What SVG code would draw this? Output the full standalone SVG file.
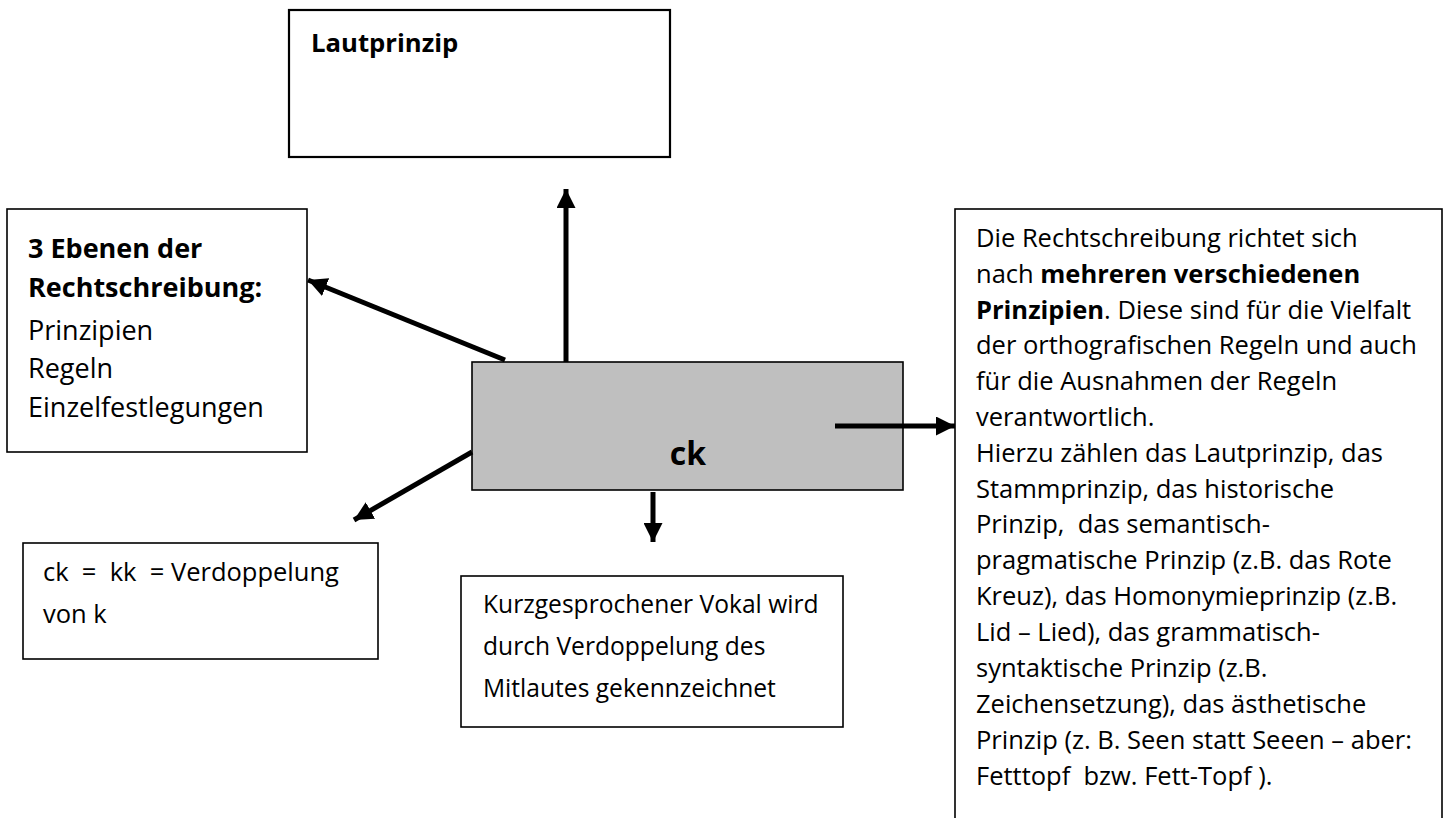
<svg xmlns="http://www.w3.org/2000/svg" width="1448" height="818" viewBox="0 0 1448 818">
<style>
  .box { fill: #ffffff; stroke: #000000; stroke-width: 1.6; }
  .center { fill: #bfbfbf; stroke: #000000; stroke-width: 1.6; }
  .t { font-family: "Open Sans", "Noto Sans", "Liberation Sans", sans-serif; font-size: 25.5px; fill: #000000; }
  .b { font-weight: bold; }
  .conn { stroke: #000000; stroke-width: 5; fill: none; }
</style>
<defs>
  <marker id="arr" viewBox="0 0 10 10" refX="10" refY="5" markerWidth="3.8" markerHeight="3.8" markerUnits="strokeWidth" orient="auto">
    <path d="M0,0 L10,5 L0,10 z" fill="#000000"/>
  </marker>
</defs>
<rect x="0" y="0" width="1448" height="818" fill="#ffffff"/>

<g id="lautprinzip">
  <rect class="box" x="289" y="10" width="381" height="147" style="stroke-width:2.2"/>
  <text class="t b" x="311" y="52" style="font-size:25.7px">Lautprinzip</text>
</g>

<g id="ebenen">
  <rect class="box" x="7" y="209" width="300" height="243"/>
  <text class="t b" x="28" y="258" style="font-size:27px">3 Ebenen der</text>
  <text class="t b" x="28" y="297" style="font-size:27px">Rechtschreibung:</text>
  <text class="t" x="28" y="340" style="font-size:27px">Prinzipien</text>
  <text class="t" x="28" y="378" style="font-size:27px">Regeln</text>
  <text class="t" x="28" y="417" style="font-size:27px">Einzelfestlegungen</text>
</g>

<g id="ck">
  <rect class="center" x="472" y="362" width="431" height="128"/>
  <text class="t b" x="688" y="465" text-anchor="middle" style="font-size:32px">ck</text>
</g>

<g id="verdoppelung">
  <rect class="box" x="23" y="543" width="355" height="116"/>
  <text class="t" x="43" y="581" xml:space="preserve">ck  =  kk  = Verdoppelung</text>
  <text class="t" x="43" y="623">von k</text>
</g>

<g id="kurz">
  <rect class="box" x="461" y="576" width="382" height="151"/>
  <text class="t" x="483" y="613" style="font-size:24.6px">Kurzgesprochener Vokal wird</text>
  <text class="t" x="483" y="655" style="font-size:24.6px">durch Verdoppelung des</text>
  <text class="t" x="483" y="697" style="font-size:24.6px">Mitlautes gekennzeichnet</text>
</g>

<g id="prinzipien">
  <rect class="box" x="955" y="209" width="487" height="640"/>
  <text class="t" x="976" y="247">Die Rechtschreibung richtet sich</text>
  <text class="t" x="976" y="283">nach <tspan class="b">mehreren verschiedenen</tspan></text>
  <text class="t" x="976" y="319"><tspan class="b">Prinzipien</tspan>. Diese sind für die Vielfalt</text>
  <text class="t" x="976" y="354">der orthografischen Regeln und auch</text>
  <text class="t" x="976" y="390">für die Ausnahmen der Regeln</text>
  <text class="t" x="976" y="426">verantwortlich.</text>
  <text class="t" x="976" y="462">Hierzu zählen das Lautprinzip, das</text>
  <text class="t" x="976" y="498">Stammprinzip, das historische</text>
  <text class="t" x="976" y="533" xml:space="preserve">Prinzip,  das semantisch-</text>
  <text class="t" x="976" y="569">pragmatische Prinzip (z.B. das Rote</text>
  <text class="t" x="976" y="605">Kreuz), das Homonymieprinzip (z.B.</text>
  <text class="t" x="976" y="641">Lid – Lied), das grammatisch-</text>
  <text class="t" x="976" y="677">syntaktische Prinzip (z.B.</text>
  <text class="t" x="976" y="713">Zeichensetzung), das ästhetische</text>
  <text class="t" x="976" y="749">Prinzip (z. B. Seen statt Seeen – aber:</text>
  <text class="t" x="976" y="785" xml:space="preserve">Fetttopf  bzw. Fett-Topf ).</text>
</g>

<g id="connectors">
  <line class="conn" x1="566" y1="362" x2="566" y2="189" marker-end="url(#arr)"/>
  <line class="conn" x1="505" y1="360" x2="308" y2="280" marker-end="url(#arr)"/>
  <line class="conn" x1="472" y1="452" x2="354" y2="520" marker-end="url(#arr)"/>
  <line class="conn" x1="653" y1="492" x2="653" y2="542" marker-end="url(#arr)"/>
  <line class="conn" x1="835" y1="426" x2="955" y2="426" marker-end="url(#arr)"/>
</g>
</svg>
